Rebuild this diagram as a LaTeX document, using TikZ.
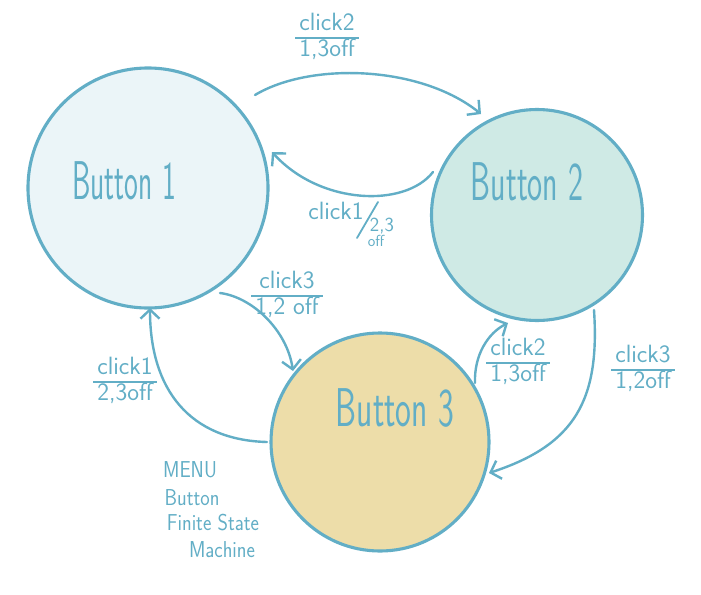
\documentclass[tikz,border=0pt]{standalone}
\usetikzlibrary{arrows.meta}
\definecolor{ink}{HTML}{62AEC6}
\definecolor{fillA}{HTML}{EBF5F8}
\definecolor{fillB}{HTML}{CFEAE5}
\definecolor{fillC}{HTML}{EDDDA9}
\newcommand\myfrac[2]{{\setlength\arrayrulewidth{1.6pt}\renewcommand\arraystretch{0.85}\begin{tabular}{@{\,}c@{\,}}#1\\\hline #2\end{tabular}}}
\tikzset{
  state/.style={circle, draw=ink, line width=3.1pt, inner sep=0pt},
  bigtxt/.style={text=ink, inner sep=0pt, font=\sffamily\fontsize{42}{42}\selectfont},
  lab/.style={text=ink, inner sep=0pt, align=center, font=\sffamily\fontsize{25}{26}\selectfont},
  note/.style={text=ink, inner sep=0pt, font=\sffamily\fontsize{20}{20}\selectfont},
  conn/.style={draw=ink, line width=2.4pt, line cap=round, line join=round, -{Straight Barb[length=9pt,width=19pt]}}
}
\begin{document}
\begin{tikzpicture}[x=1pt,y=-1pt]
\useasboundingbox[fill=white] (0,0) rectangle (701,594);
% states
\node[state, fill=fillA, minimum size=240pt] (B1) at (148,188) {};
\node[state, fill=fillB, minimum size=211pt] (B2) at (537,215) {};
\node[state, fill=fillC, minimum size=218pt] (B3) at (380,442) {};
\node[bigtxt] (t1) at (124,181) {\scalebox{0.7}[1.3]{Button 1}};
\node[bigtxt] (t2) at (527,182) {\scalebox{0.76}[1.3]{Button 2}};
\node[bigtxt] (t3) at (395,408) {\scalebox{0.8}[1.3]{Button 3}};
% connector end points
\coordinate (s12) at (255,95);   \coordinate (e12) at (481,114);
\coordinate (s21) at (433,172);  \coordinate (e21) at (272,152);
\coordinate (s13) at (220,293);  \coordinate (e13) at (293,371);
\coordinate (s31) at (267,442);  \coordinate (e31) at (150,308);
\coordinate (s32) at (475,383);  \coordinate (e32) at (508,323);
\coordinate (s23) at (594,310);  \coordinate (e23) at (489,473);
% connectors
\draw[conn] (s12) .. controls (310,62) and (420,65) .. (e12);
\draw[conn] (s21) .. controls (405,208) and (320,205) .. (e21);
\draw[conn] (s13) .. controls (252,297) and (287,330) .. (e13);
\draw[conn] (s31) .. controls (190,440) and (150,390) .. (e31);
\draw[conn] (s32) .. controls (474,355) and (488,333) .. (e32);
\draw[conn] (s23) .. controls (600,400) and (575,445) .. (e23);
% labels
\node[lab] (l12) at (327,38) {\myfrac{click2}{1,3off}};
\node[lab] (l13) at (287,296) {\myfrac{click3}{1,2 off}};
\node[lab] (l31) at (125,382) {\myfrac{click1}{2,3off}};
\node[lab] (l32) at (518,363) {\myfrac{click2}{1,3off}};
\node[lab] (l23) at (643,370) {\myfrac{click3}{1,2off}};
\node[lab] (l21a) at (336,211) {click1};
\coordinate (sl1) at (357,238); \coordinate (sl2) at (378,202);
\draw[draw=ink, line width=1.8pt, line cap=round] (sl1) -- (sl2);
\node[lab, font=\sffamily\fontsize{20}{20}\selectfont] (l21b) at (382,226) {2,3};
\node[lab, font=\sffamily\fontsize{16}{16}\selectfont] (l21c) at (376,241) {off};
% note
\node[note] (n1) at (190,470) {\scalebox{1}[1.15]{MENU}};
\node[note] (n2) at (192,498) {\scalebox{1}[1.15]{Button}};
\node[note] (n3) at (213,523) {\scalebox{1}[1.15]{Finite State}};
\node[note] (n4) at (222,550) {\scalebox{1}[1.15]{Machine}};
\end{tikzpicture}
\end{document}
